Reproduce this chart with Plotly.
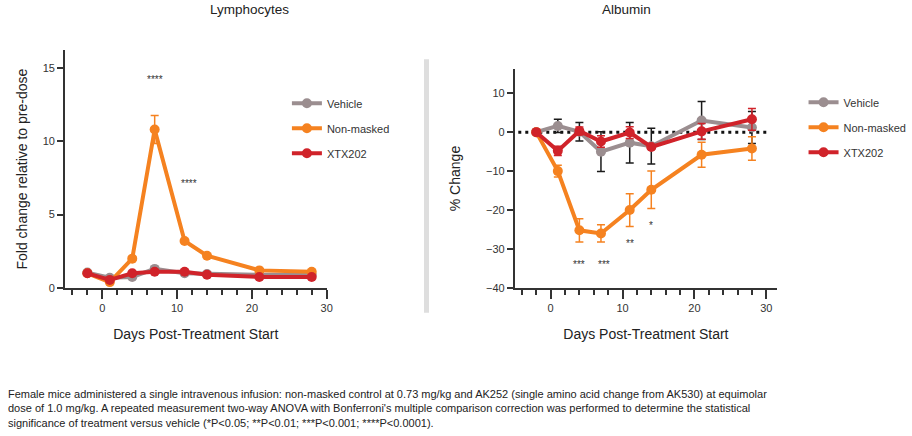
import plotly.graph_objects as go

# ---------------- data ----------------
days = [-2, 1, 4, 7, 11, 14, 21, 28]

# Lymphocytes (fold change relative to pre-dose)
lym_vehicle = [1.05, 0.7, 0.75, 1.3, 1.0, 0.95, 0.9, 0.9]
lym_vehicle_err = [0.05, 0.05, 0.05, 0.1, 0.05, 0.05, 0.05, 0.05]
lym_nonmasked = [1.0, 0.4, 2.0, 10.8, 3.2, 2.2, 1.2, 1.1]
lym_nonmasked_err = [0.05, 0.05, 0.1, 0.95, 0.1, 0.1, 0.1, 0.1]
lym_xtx202 = [1.0, 0.55, 1.0, 1.1, 1.1, 0.9, 0.75, 0.75]
lym_xtx202_err = [0.05, 0.05, 0.05, 0.05, 0.05, 0.05, 0.05, 0.05]

# Albumin (% change)
alb_vehicle = [0.0, 1.6, 0.1, -5.0, -2.7, -3.6, 3.0, 1.2]
alb_vehicle_err = [0.0, 1.7, 2.4, 5.1, 5.2, 4.6, 4.9, 4.1]
alb_nonmasked = [0.0, -10.0, -25.2, -26.0, -20.0, -14.8, -5.8, -4.2]
alb_nonmasked_err = [0.0, 1.5, 3.0, 2.2, 4.2, 4.8, 3.2, 3.0]
alb_xtx202 = [0.0, -4.8, 0.3, -2.4, -0.1, -3.8, 0.2, 3.3]
alb_xtx202_err = [0.0, 1.2, 1.0, 1.5, 1.5, 0.5, 2.0, 2.8]

series_names = ["Vehicle", "Non-masked", "XTX202"]
colors = ["#9b8e90", "#f58220", "#d0232a"]
err_colors = ["#1a1a1a", "#f58220", "#d0232a"]

lym_stars = [(7, 14.2, "****"), (11.6, 7.1, "****")]
alb_stars = [(4, -34.1, "***"), (7.4, -34.1, "***"), (11, -28.6, "**"), (14, -24.0, "*")]

x_ticks = [0, 10, 20, 30]
lym_y_ticks = [0, 5, 10, 15]
alb_y_ticks = [-40, -30, -20, -10, 0, 10]

FONT = "Arial, Liberation Sans, Helvetica, sans-serif"
W, H = 912, 436

fig = go.Figure()

def add_series(vals, errs, xa, ya, legend):
    for name, v, e, c, ec in zip(series_names, vals, errs, colors, err_colors):
        fig.add_trace(go.Scatter(
            x=days, y=v, name=name, mode="lines+markers",
            xaxis=xa, yaxis=ya, legend=legend, legendgroup=legend + name,
            line=dict(color=c, width=4),
            marker=dict(color=c, size=10),
            error_y=dict(type="data", array=e, visible=True, color=ec,
                         thickness=1.5, width=4),
        ))

add_series([lym_vehicle, lym_nonmasked, lym_xtx202],
           [lym_vehicle_err, lym_nonmasked_err, lym_xtx202_err], "x", "y", "legend")
add_series([alb_vehicle, alb_nonmasked, alb_xtx202],
           [alb_vehicle_err, alb_nonmasked_err, alb_xtx202_err], "x2", "y2", "legend2")

def px_x(p):
    return p / W

def px_y(p):
    return 1 - p / H

axis_common = dict(
    showline=True, linecolor="#333333", linewidth=1.5,
    ticks="outside", tickcolor="#333333", tickwidth=1.5,
    tickfont=dict(family=FONT, size=11, color="#333333"),
    showgrid=False, zeroline=False, fixedrange=True,
)

fig.update_layout(
    width=W, height=H,
    margin=dict(l=0, r=0, t=0, b=0),
    paper_bgcolor="white", plot_bgcolor="white",
    font=dict(family=FONT, color="#222222"),
    showlegend=True,
    xaxis=dict(domain=[px_x(67), px_x(337)], range=[-5, 30], anchor="y",
               tickvals=x_ticks, ticklen=9,
               minor=dict(dtick=2, tick0=0, ticklen=5, ticks="outside",
                          tickcolor="#333333", tickwidth=1.5),
               title=dict(text="Days Post-Treatment Start", standoff=16,
                          font=dict(family=FONT, size=14, color="#222222")),
               **axis_common),
    yaxis=dict(domain=[px_y(292), px_y(51)], range=[0, 16.2], anchor="x",
               tickvals=lym_y_ticks, ticklen=6,
               title=dict(text="Fold change relative to pre-dose", standoff=12,
                          font=dict(family=FONT, size=14, color="#222222")),
               **axis_common),
    xaxis2=dict(domain=[px_x(531), px_x(801.7)], range=[-5, 31.5], anchor="y2",
                tickvals=x_ticks, ticklen=9,
                minor=dict(dtick=2, tick0=0, ticklen=5, ticks="outside",
                           tickcolor="#333333", tickwidth=1.5),
                title=dict(text="Days Post-Treatment Start", standoff=16,
                           font=dict(family=FONT, size=14, color="#222222")),
                **axis_common),
    yaxis2=dict(domain=[px_y(292), px_y(70)], range=[-40, 16.2], anchor="x2",
                tickvals=alb_y_ticks, ticklen=6,
                title=dict(text="% Change", standoff=22,
                           font=dict(family=FONT, size=14, color="#222222")),
                **axis_common),
    legend=dict(x=px_x(296), y=px_y(90), xanchor="left", yanchor="top",
                font=dict(family=FONT, size=11, color="#333333"),
                tracegroupgap=6, itemwidth=30, bgcolor="rgba(0,0,0,0)"),
    legend2=dict(x=px_x(829), y=px_y(89), xanchor="left", yanchor="top",
                 font=dict(family=FONT, size=11, color="#333333"),
                 tracegroupgap=6, itemwidth=30, bgcolor="rgba(0,0,0,0)"),
)

shapes = []
# dotted zero line on albumin panel
shapes.append(dict(type="line", xref="x2", yref="y2", x0=-4.5, x1=30.2, y0=0, y1=0,
                   line=dict(color="#111111", width=3, dash="3px,4px"), layer="below"))
# separator
shapes.append(dict(type="line", xref="paper", yref="paper", x0=px_x(440), x1=px_x(440),
                   y0=px_y(60), y1=px_y(317), line=dict(color="#dedede", width=5)))
# y-axis extension below x-axis (Prism style)
for xr, yr, ymin in [("x domain", "y", 0), ("x2 domain", "y2", -40)]:
    shapes.append(dict(type="line", xref=xr, yref=yr, x0=0, x1=0, y0=0, y1=-10,
                       ysizemode="pixel", yanchor=ymin,
                       line=dict(color="#333333", width=1.5)))
fig.update_layout(shapes=shapes)

annotations = []
for (x, y, t) in lym_stars:
    annotations.append(dict(x=x, y=y, xref="x", yref="y", text=t, showarrow=False,
                            font=dict(family=FONT, size=10, color="#333333")))
for (x, y, t) in alb_stars:
    annotations.append(dict(x=x, y=y, xref="x2", yref="y2", text=t, showarrow=False,
                            font=dict(family=FONT, size=10, color="#333333")))
annotations.append(dict(x=px_x(215), y=1, xref="paper", yref="paper", yanchor="top",
                        text="Lymphocytes", showarrow=False,
                        font=dict(family=FONT, size=13.5, color="#222222")))
annotations.append(dict(x=px_x(674), y=1, xref="paper", yref="paper", yanchor="top",
                        text="Albumin", showarrow=False,
                        font=dict(family=FONT, size=13.5, color="#222222")))
footnote = ("Female mice administered a single intravenous infusion: non-masked control at 0.73 mg/kg and AK252 "
            "(single amino acid change from AK530) at equimolar<br>dose of 1.0 mg/kg. A repeated measurement two-way "
            "ANOVA with Bonferroni's multiple comparison correction was performed to determine the statistical<br>"
            "significance of treatment versus vehicle (*P&lt;0.05; **P&lt;0.01; ***P&lt;0.001; ****P&lt;0.0001).")
annotations.append(dict(x=px_x(6), y=px_y(391), xref="paper", yref="paper", xanchor="left",
                        yanchor="top", align="left", text=footnote, showarrow=False,
                        font=dict(family=FONT, size=11, color="#222222")))
fig.update_layout(annotations=annotations)

fig.write_html("out.html")
